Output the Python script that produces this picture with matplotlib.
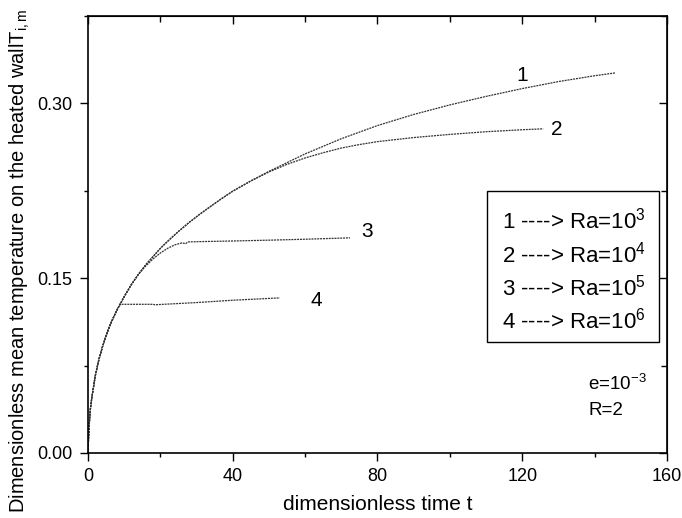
import matplotlib
matplotlib.use("Agg")
import matplotlib.pyplot as plt
from matplotlib.ticker import MultipleLocator, FormatStrFormatter

plt.rcParams["font.family"] = ["Liberation Sans", "DejaVu Sans"]
plt.rcParams["mathtext.fontset"] = "custom"
plt.rcParams["mathtext.rm"] = "Liberation Sans"
plt.rcParams["mathtext.it"] = "Liberation Sans"
plt.rcParams["mathtext.default"] = "regular"

# shared start of all curves
t_start = [0, 0.15, 0.35, 0.6, 1, 1.5, 2, 3, 4, 5, 6, 7, 8]
T_start = [0, 0.012, 0.024, 0.036, 0.046, 0.056, 0.066, 0.080, 0.091, 0.1005,
           0.109, 0.116, 0.1225]

# curve 1 (Ra=10^3)
t1 = t_start + [9, 10, 12, 14, 16, 18, 20, 22, 25, 28, 31, 34, 37, 40, 45, 50,
                60, 70, 80, 90, 100, 110, 120, 130, 140, 145.8]
T1 = T_start + [0.1283, 0.134, 0.1445, 0.1535, 0.1615, 0.1685, 0.1755, 0.1815,
                0.190, 0.1978, 0.205, 0.2117, 0.2183, 0.2245, 0.2333, 0.2415,
                0.2565, 0.2695, 0.2808, 0.2903, 0.2985, 0.3058, 0.3125, 0.3185,
                0.3235, 0.326]

# curve 2 (Ra=10^4)
t2 = t_start + [9, 10, 12, 14, 16, 18, 20, 22, 25, 28, 31, 34, 37, 40, 45, 50,
                55, 60, 65, 70, 75, 80, 90, 100, 110, 120, 125.8]
T2 = T_start + [0.1283, 0.134, 0.1445, 0.1535, 0.1615, 0.1685, 0.1755, 0.1815,
                0.190, 0.1978, 0.205, 0.2117, 0.2183, 0.2245, 0.2333, 0.241,
                0.2475, 0.253, 0.2575, 0.2615, 0.2645, 0.267, 0.2705, 0.2732,
                0.2755, 0.2772, 0.278]

# curve 3 (Ra=10^5)
t3 = t_start + [9, 10, 12, 14, 16, 18, 20, 22, 24, 26, 27, 27.6, 30, 40, 50,
                60, 72.4]
T3 = T_start + [0.1283, 0.134, 0.1445, 0.1535, 0.1605, 0.1665, 0.1715, 0.1755,
                0.1785, 0.1802, 0.1795, 0.181, 0.1812, 0.1818, 0.1825, 0.1833,
                0.1845]

# curve 4 (Ra=10^6)
t4 = t_start + [8.8, 12, 18, 18.5, 30, 40, 53]
T4 = T_start + [0.1275, 0.1275, 0.1275, 0.1271, 0.129, 0.131, 0.133]

curves = [(t1, T1), (t2, T2), (t3, T3), (t4, T4)]
curve_ids = ["1", "2", "3", "4"]
label_x = [120.0, 129.5, 77.2, 63.1]
label_y = [0.324, 0.2777, 0.1897, 0.1311]
legend_lines = [r"1 ----> Ra=10$^{3}$", r"2 ----> Ra=10$^{4}$",
                r"3 ----> Ra=10$^{5}$", r"4 ----> Ra=10$^{6}$"]

fig = plt.figure(figsize=(6.82, 5.18), dpi=100)
ax = fig.add_axes([0.129, 0.1255, 0.849, 0.8442])

for (t, T) in curves:
    ax.plot(t, T, color="#333333", lw=0.9, linestyle=(0, (1.6, 0.7)))

for cid, lx, ly in zip(curve_ids, label_x, label_y):
    ax.text(lx, ly, cid, fontsize=15, ha="center", va="center")

# legend box
ax.add_patch(plt.Rectangle((110.3, 0.0954), 47.5, 0.1292, fill=False,
                           edgecolor="black", lw=1.0, zorder=3))
for i, line in enumerate(legend_lines):
    ax.text(114.4, 0.1989 - i * 0.0283, line, fontsize=16, ha="left", va="center")

ax.text(138.3, 0.0595, r"e=10$^{-3}$", fontsize=13.5, ha="left", va="center")
ax.text(138.3, 0.0368, "R=2", fontsize=13.5, ha="left", va="center")

ax.set_xlim(0, 160)
ax.set_ylim(0, 0.375)
ax.xaxis.set_major_locator(MultipleLocator(40))
ax.xaxis.set_minor_locator(MultipleLocator(20))
ax.yaxis.set_major_locator(MultipleLocator(0.15))
ax.yaxis.set_minor_locator(MultipleLocator(0.075))
ax.yaxis.set_major_formatter(FormatStrFormatter("%.2f"))
ax.tick_params(which="major", direction="out", length=6, width=1, labelsize=13, pad=5)
ax.tick_params(which="minor", direction="out", length=3, width=1)

# mirrored ticks pointing inward on top and right
top = ax.secondary_xaxis("top")
top.xaxis.set_major_locator(MultipleLocator(40))
top.xaxis.set_minor_locator(MultipleLocator(20))
top.tick_params(which="major", direction="in", length=6, width=1, labeltop=False)
top.tick_params(which="minor", direction="in", length=4, width=1)
right = ax.secondary_yaxis("right")
right.yaxis.set_major_locator(MultipleLocator(0.15))
right.yaxis.set_minor_locator(MultipleLocator(0.075))
right.tick_params(which="major", direction="in", length=6, width=1, labelright=False)
right.tick_params(which="minor", direction="in", length=4, width=1)

for s in ax.spines.values():
    s.set_linewidth(1.2)

ax.set_xlabel("dimensionless time t", fontsize=15, labelpad=7)
ax.set_ylabel(r"Dimensionless mean temperature on the heated wallT$_{i,m}$", fontsize=14.5)
ax.yaxis.set_label_coords(-0.097, 0.44)

fig.savefig("out.png", dpi=100)
